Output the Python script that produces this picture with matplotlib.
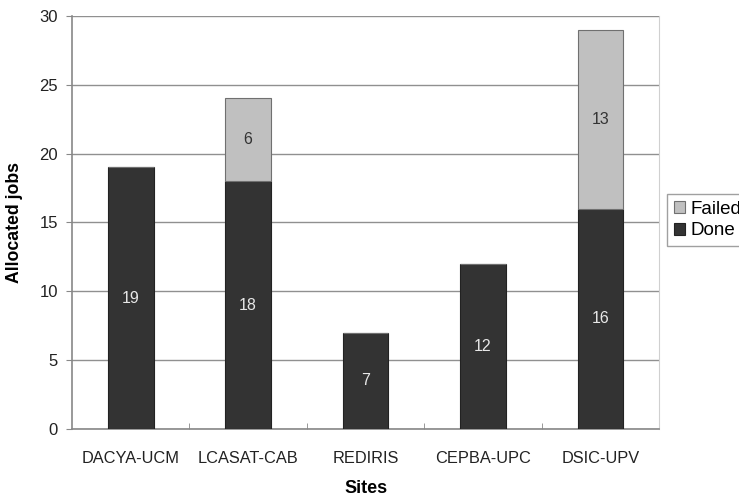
import matplotlib
matplotlib.use('Agg')
import matplotlib.pyplot as plt
import numpy as np

plt.rcParams['font.family'] = ['Liberation Sans', 'DejaVu Sans']

sites = ['DACYA-UCM', 'LCASAT-CAB', 'REDIRIS', 'CEPBA-UPC', 'DSIC-UPV']
done = [19, 18, 7, 12, 16]
failed = [0, 6, 0, 0, 13]

fig = plt.figure(figsize=(7.39, 4.98), dpi=100)
ax = fig.add_axes([0.0974, 0.1386, 0.7946, 0.8296])

x = np.arange(len(sites))
w = 0.39
b_done = ax.bar(x, done, w, color='#333333', edgecolor='#222222', linewidth=0.8,
                label='Done', zorder=3)
b_fail = ax.bar(x, failed, w, bottom=done, color='#c0c0c0', edgecolor='#707070',
                linewidth=0.8, label='Failed', zorder=3)

for i, v in enumerate(done):
    ax.text(x[i], v / 2, str(v), ha='center', va='center', color='#e8e8e8',
            fontsize=11.5, zorder=4)
for i, v in enumerate(failed):
    if v:
        ax.text(x[i], done[i] + v / 2, str(v), ha='center', va='center',
                color='#333333', fontsize=11.5, zorder=4)

ax.set_xlim(-0.5, len(sites) - 0.5)
ax.set_ylim(0, 30)
ax.set_yticks(range(0, 31, 5))
ax.set_xticks(x)
ax.set_xticklabels(sites, fontsize=11.8, color='#222222')
ax.set_xticks(np.arange(0.5, len(sites) - 1, 1), minor=True)
ax.tick_params(axis='x', which='major', length=0, pad=16)
ax.tick_params(axis='x', which='minor', length=4, color='#888888', direction='in')
ax.tick_params(axis='y', length=4, color='#888888', direction='out', labelsize=12,
               labelcolor='#222222', pad=6)
ax.yaxis.grid(True, color='#909090', linewidth=1.0, zorder=0)

for side in ['left', 'bottom']:
    ax.spines[side].set_color('#888888')
    ax.spines[side].set_linewidth(1.2)
ax.spines['top'].set_visible(False)
ax.spines['right'].set_color('#d0d0d0')

ax.set_ylabel('Allocated jobs', fontsize=12.7, fontweight='bold', labelpad=12)
ax.set_xlabel('Sites', fontsize=13, fontweight='bold', labelpad=10)

fig.legend(handles=[b_fail, b_done], labels=['Failed', 'Done'],
           loc='upper left', bbox_to_anchor=(667 / 739, 1 - 194 / 498),
           fontsize=13.5, frameon=True, fancybox=False, edgecolor='#888888',
           handlelength=0.6, handleheight=0.6, handletextpad=0.3,
           borderpad=0.35, labelspacing=0.25, borderaxespad=0)

fig.savefig('out.png', dpi=100)
